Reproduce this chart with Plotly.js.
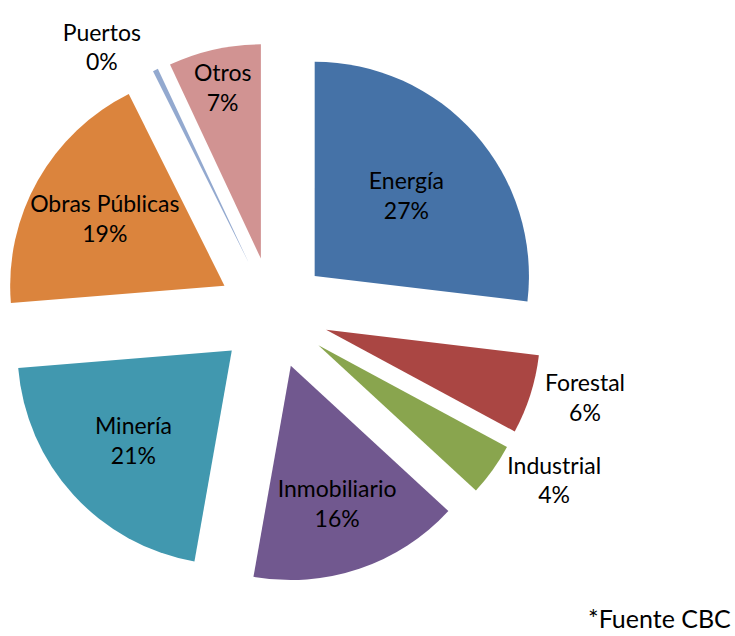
<!DOCTYPE html>
<html>
<head>
<meta charset="utf-8">
<script src="https://cdn.plot.ly/plotly-3.0.1.min.js"></script>
<style>html,body{margin:0;padding:0;background:#fff;}#chart{width:735px;height:636px;}</style>
</head>
<body>
<div id="chart"></div>
<script>
const categories = ["Energía", "Forestal", "Industrial", "Inmobiliario", "Minería", "Obras Públicas", "Puertos", "Otros"];
const values = [27, 6, 4, 16, 21, 19, 0.4, 7];
const colors = ["#4572A7", "#AA4643", "#89A54E", "#71588F", "#4198AF", "#DB843D", "#93A9CF", "#D19392"];
const textPositions = ["inside", "outside", "outside", "inside", "inside", "inside", "outside", "inside"];
const sourceNote = "*Fuente CBC";

const FONT = "Lato, sans-serif";

const trace = {
  type: "pie",
  labels: categories,
  values: values,
  sort: false,
  direction: "clockwise",
  rotation: 0,
  pull: categories.map(() => 0.26),
  marker: {colors: colors, line: {width: 0}},
  texttemplate: "%{label}<br>%{percent:.0%}",
  textposition: textPositions,
  insidetextorientation: "horizontal",
  insidetextfont: {family: FONT, size: 23, color: "#000"},
  outsidetextfont: {family: FONT, size: 23, color: "#000"},
  textfont: {family: FONT, size: 23, color: "#000"},
  hoverinfo: "label+percent",
  showlegend: false,
  automargin: false,
  domain: {x: [3/735, 543/735], y: [1 - 583/636, 1 - 43/636]}
};

const layout = {
  width: 735,
  height: 636,
  margin: {l: 0, r: 0, t: 0, b: 0},
  paper_bgcolor: "#fff",
  font: {family: FONT, size: 23, color: "#000"},
  uniformtext: {mode: "show", minsize: 23},
  showlegend: false,
  annotations: [{
    text: sourceNote,
    xref: "paper", yref: "paper",
    x: 0.997, y: 0.002,
    xanchor: "right", yanchor: "bottom",
    showarrow: false,
    font: {family: FONT, size: 25, color: "#000"}
  }]
};

Plotly.newPlot("chart", [trace], layout, {displayModeBar: false, staticPlot: true});
</script>
</body>
</html>
